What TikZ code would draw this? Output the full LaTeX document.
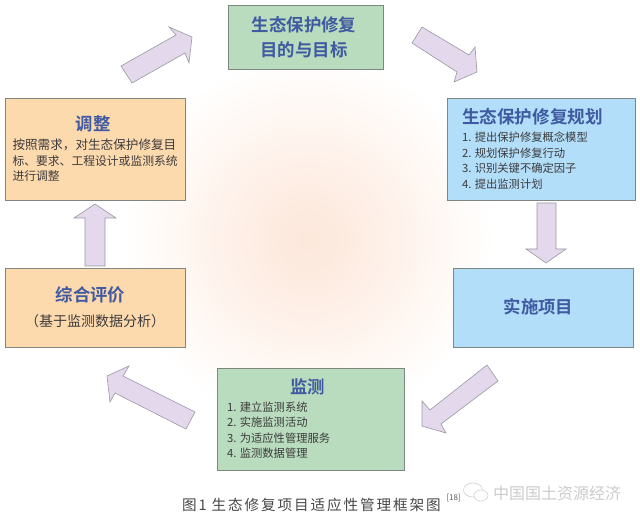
\documentclass[tikz,border=0pt]{standalone}
\usepackage{fontspec}
\setmainfont{Noto Sans CJK SC}
\newfontfamily\cjkb{Noto Sans CJK SC Bold}
\newfontfamily\capfont[LetterSpace=13]{Noto Sans CJK SC}
\definecolor{gbox}{HTML}{B9DBBE}
\definecolor{bbox}{HTML}{B2DEF9}
\definecolor{obox}{HTML}{FDD9AE}
\definecolor{edgec}{HTML}{7F8580}
\definecolor{titlec}{HTML}{3F5AA0}
\definecolor{bodyc}{HTML}{3C3C3C}
\definecolor{arrowf}{HTML}{E3D8EC}
\definecolor{arrowd}{HTML}{9A98A0}
\definecolor{g0}{HTML}{FDE8DB}
\definecolor{g1}{HTML}{FDEBE0}
\definecolor{g2}{HTML}{FEF0E8}
\definecolor{g3}{HTML}{FEF5EF}
\definecolor{g4}{HTML}{FFFAF7}
\pgfdeclareradialshading{glow}{\pgfpoint{0bp}{0bp}}{
  color(0bp)=(g0);
  color(5bp)=(g1);
  color(10bp)=(g2);
  color(15bp)=(g3);
  color(20bp)=(g4);
  color(25bp)=(white);
  color(50bp)=(white)}
\tikzset{
  boxn/.style={draw=edgec,line width=0.8pt,inner sep=0pt,minimum width=#1},
  titlet/.style={font=\cjkb\fontsize{17.4}{25}\selectfont,text=titlec},
  bodyt/.style={font=\fontsize{11.3}{15.5}\selectfont,text=bodyc,align=left},
  bigarrow/.style={draw=arrowd,fill=arrowf,line width=0.6pt,line join=miter},
}
\begin{document}
\begin{tikzpicture}[x=1pt,y=-1pt]
\useasboundingbox (0,0) rectangle (640,521);
\fill[white] (0,0) rectangle (640,521);
\shade[shading=glow] (308,240) circle (185);
% boxes
\node[boxn=155pt,minimum height=64pt,fill=gbox] (goal) at (305.5,37) {};
\node[boxn=188pt,minimum height=102pt,fill=bbox] (plan) at (541,149) {};
\node[boxn=180pt,minimum height=79pt,fill=bbox] (impl) at (543,307.5) {};
\node[boxn=187pt,minimum height=102pt,fill=gbox] (mon) at (310.5,419) {};
\node[boxn=180pt,minimum height=79pt,fill=obox] (eval) at (95,307.5) {};
\node[boxn=180pt,minimum height=102pt,fill=obox] (adj) at (95,149) {};
% texts
\node[titlet,align=center] (goalt) at (304,37) {生态保护修复\\目的与目标};
\node[titlet,anchor=center] (plant) at (532.5,117) {\fontsize{17.6}{18}\selectfont 生态保护修复规划};
\node[bodyt,anchor=north west] (planb) at (458.5,128.5) {1. 提出保护修复概念模型\\2. 规划保护修复行动\\3. 识别关键不确定因子\\4. 提出监测计划};
\node[titlet] (implt) at (538.5,307) {实施项目};
\node[titlet] (mont) at (307.5,387) {监测};
\node[bodyt,anchor=north west] (monb) at (223.5,398) {1. 建立监测系统\\2. 实施监测活动\\3. 为适应性管理服务\\4. 监测数据管理};
\node[titlet] (evalt) at (90.5,295) {综合评价};
\node[text=bodyc,font=\fontsize{14}{16}\selectfont] (evalb) at (95,321) {（基于监测数据分析）};
\node[titlet] (adjt) at (93,124) {调整};
\node[bodyt,anchor=north west] (adjb) at (9,135.5) {{\fontsize{12.6}{15.5}\selectfont 按照需求，对生态保护修复目}\\{\fontsize{11.8}{15.5}\selectfont 标、要求、工程设计或监测系统}\\{\fontsize{11.8}{15.5}\selectfont 进行调整}};
% arrows
\draw[bigarrow] (121,66) -- (176,35) -- (169,27) -- (192,37) -- (189,63) -- (185,53) -- (132,83) -- cycle;
\draw[bigarrow] (422,27) -- (469,55) -- (475,47) -- (477,72) -- (454,82) -- (457,72) -- (412,43) -- cycle;
\draw[bigarrow] (537,203) -- (556,203) -- (556,249) -- (566,249) -- (546,263) -- (526,249) -- (537,249) -- cycle;
\draw[bigarrow] (487,365) -- (498,381) -- (441,424) -- (446,433) -- (422,426) -- (422,401) -- (430,410) -- cycle;
\draw[bigarrow] (195,412) -- (186,429) -- (115,393) -- (110,402) -- (107,376) -- (129,366) -- (123,376) -- cycle;
\draw[bigarrow] (85,266) -- (105,266) -- (105,218) -- (116,218) -- (95,204) -- (74,218) -- (85,218) -- cycle;
% caption
\node[text=black!72,font=\capfont\fontsize{14.6}{16}\selectfont,anchor=west] (cap) at (178.5,505) {图1\hspace{5pt}生态修复项目适应性管理框架图};
\node[text=black!65,font=\fontsize{8}{9}\selectfont,anchor=west] (capref) at (443,498) {[18]};
% watermark
\draw[black!18,line width=0.6pt,fill=white] (473,490) ellipse (9.5 and 7);
\draw[black!18,line width=0.6pt,fill=white] (481,495.5) ellipse (7 and 5.5);
\node[text=black!20,font=\fontsize{16}{18}\selectfont,anchor=west] (wm) at (489.5,493) {中国国土资源经济};
\end{tikzpicture}
\end{document}
